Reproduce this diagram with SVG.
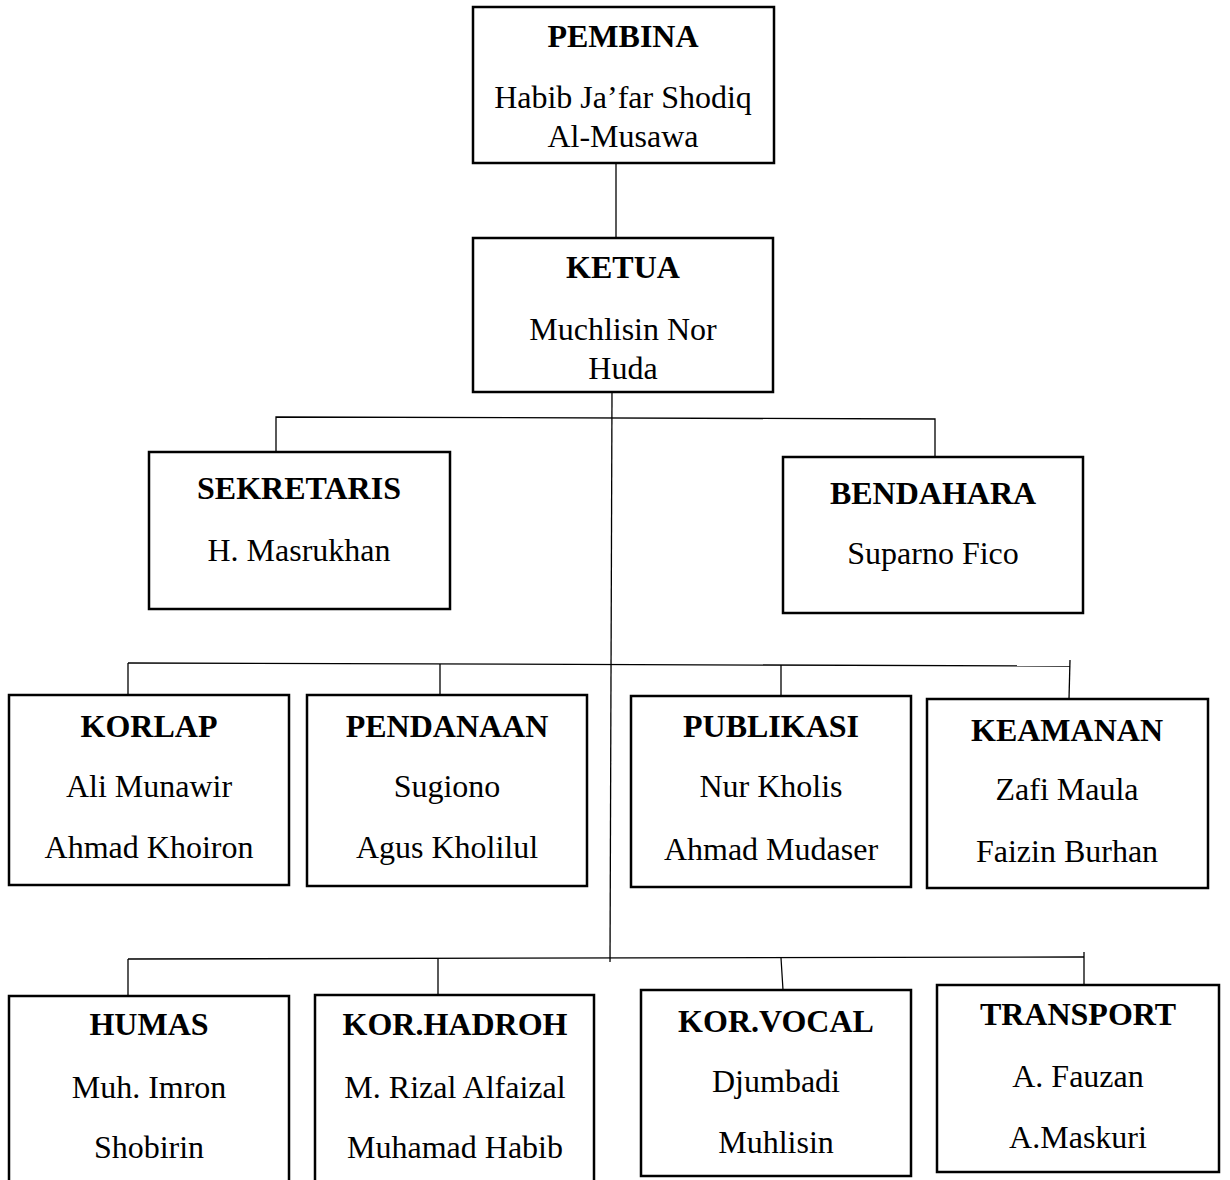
<svg xmlns="http://www.w3.org/2000/svg" width="1230" height="1180" viewBox="0 0 1230 1180">
<style>
.box{fill:#fff;stroke:#000;stroke-width:2.5}
.ln{stroke:#000;stroke-width:1.3;fill:none}
text{font-family:"Liberation Serif","Times New Roman",serif;font-size:32px;fill:#000;text-anchor:middle}
.t{font-weight:bold}
</style>
<rect width="1230" height="1180" fill="#fff"/>
<g id="connectors">
<line class="ln" x1="616" y1="163" x2="616" y2="238"/>
<line class="ln" x1="612" y1="392" x2="610" y2="962"/>
<polyline class="ln" points="276,452 276,417 935,419 935,457"/>
<line class="ln" x1="128" y1="663" x2="1070" y2="666"/>
<line class="ln" x1="128" y1="663" x2="128" y2="695"/>
<line class="ln" x1="440" y1="664" x2="440" y2="695"/>
<line class="ln" x1="781" y1="665" x2="781" y2="696"/>
<line class="ln" x1="1070" y1="660" x2="1069" y2="699"/>
<line class="ln" x1="128" y1="959" x2="1084" y2="957"/>
<line class="ln" x1="128" y1="959" x2="128" y2="996"/>
<line class="ln" x1="438" y1="958" x2="438" y2="995"/>
<line class="ln" x1="781" y1="958" x2="783" y2="990"/>
<line class="ln" x1="1084" y1="952" x2="1084" y2="985"/>
</g>
<g id="pembina">
<rect class="box" x="473" y="7" width="301" height="156"/>
<text class="t" x="623" y="47">PEMBINA</text>
<text x="623" y="108">Habib Ja’far Shodiq</text>
<text x="623" y="147">Al-Musawa</text>
</g>
<g id="ketua">
<rect class="box" x="473" y="238" width="300" height="154"/>
<text class="t" x="623" y="278">KETUA</text>
<text x="623" y="340">Muchlisin Nor</text>
<text x="623" y="379">Huda</text>
</g>
<g id="sekretaris">
<rect class="box" x="149" y="452" width="301" height="157"/>
<text class="t" x="299" y="499">SEKRETARIS</text>
<text x="299" y="561">H. Masrukhan</text>
</g>
<g id="bendahara">
<rect class="box" x="783" y="457" width="300" height="156"/>
<text class="t" x="933" y="504">BENDAHARA</text>
<text x="933" y="564">Suparno Fico</text>
</g>
<g id="korlap">
<rect class="box" x="9" y="695" width="280" height="190"/>
<text class="t" x="149" y="737">KORLAP</text>
<text x="149" y="797">Ali Munawir</text>
<text x="149" y="858">Ahmad Khoiron</text>
</g>
<g id="pendanaan">
<rect class="box" x="307" y="695" width="280" height="191"/>
<text class="t" x="447" y="737">PENDANAAN</text>
<text x="447" y="797">Sugiono</text>
<text x="447" y="858">Agus Kholilul</text>
</g>
<g id="publikasi">
<rect class="box" x="631" y="696" width="280" height="191"/>
<text class="t" x="771" y="737">PUBLIKASI</text>
<text x="771" y="797">Nur Kholis</text>
<text x="771" y="860">Ahmad Mudaser</text>
</g>
<g id="keamanan">
<rect class="box" x="927" y="699" width="281" height="189"/>
<text class="t" x="1067" y="741">KEAMANAN</text>
<text x="1067" y="800">Zafi Maula</text>
<text x="1067" y="862">Faizin Burhan</text>
</g>
<g id="humas">
<rect class="box" x="9" y="996" width="280" height="200"/>
<text class="t" x="149" y="1035">HUMAS</text>
<text x="149" y="1098">Muh. Imron</text>
<text x="149" y="1158">Shobirin</text>
</g>
<g id="korhadroh">
<rect class="box" x="315" y="995" width="279" height="200"/>
<text class="t" x="455" y="1035">KOR.HADROH</text>
<text x="455" y="1098">M. Rizal Alfaizal</text>
<text x="455" y="1158">Muhamad Habib</text>
</g>
<g id="korvocal">
<rect class="box" x="641" y="990" width="270" height="186"/>
<text class="t" x="776" y="1032">KOR.VOCAL</text>
<text x="776" y="1092">Djumbadi</text>
<text x="776" y="1153">Muhlisin</text>
</g>
<g id="transport">
<rect class="box" x="937" y="985" width="282" height="187"/>
<text class="t" x="1078" y="1025">TRANSPORT</text>
<text x="1078" y="1087">A. Fauzan</text>
<text x="1078" y="1148">A.Maskuri</text>
</g>
</svg>
